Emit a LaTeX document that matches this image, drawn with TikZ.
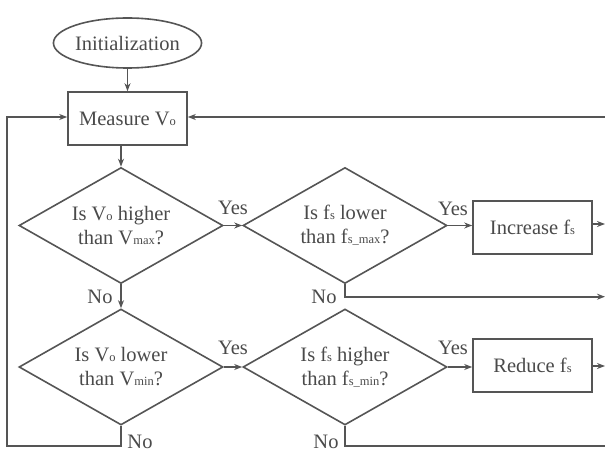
\documentclass[tikz,border=0pt]{standalone}
\usepackage{fontspec}
\setmainfont{Liberation Serif}
\usetikzlibrary{shapes.geometric, arrows.meta}
\definecolor{lncol}{HTML}{555555}
\definecolor{txcol}{HTML}{4A4A4A}
\newcommand{\lowsub}[1]{{\fontsize{12.5}{12.5}\selectfont #1}}
\tikzset{
  box/.style={draw=lncol, line width=1.6pt, minimum width=119pt, minimum height=53pt, inner sep=0pt},
  decide/.style={draw=lncol, line width=1.6pt, diamond, aspect=1.76, minimum width=204pt, minimum height=116pt, inner sep=0pt, align=center},
  flow/.style={draw=lncol, line width=1.6pt, -{Stealth[length=8pt, width=6pt]}},
  lbl/.style={text=txcol, inner sep=0pt}
}
\begin{document}
\begin{tikzpicture}[x=1pt, y=-1pt, font=\fontsize{20.5}{24}\selectfont, text=txcol]
\useasboundingbox (0,0) rectangle (605,452);
% start and measurement
\node[draw=lncol, line width=1.6pt, ellipse, minimum width=145pt, minimum height=50pt, inner sep=0pt] (init) at (127.5,43) {Initialization};
\node[box] (measure) at (127.5,118.5) {Measure V\lowsub{o}};
\draw[flow] (init) -- (measure);
% checks on the output voltage
\node[decide] (chkmax) at (121,225.5) {Is V\lowsub{o} higher\\than V\lowsub{max}?};
\node[decide] (chkmin) at (121,367) {Is V\lowsub{o} lower\\than V\lowsub{min}?};
\draw[flow] (chkmax.north |- measure.south) -- (chkmax.north);
\draw[flow] (chkmax) -- (chkmin);
\node[lbl] at (100,296.7) {No};
% checks on the switching frequency
\node[decide] (fsmax) at (345,225.5) {Is f\lowsub{s} lower\\than f\lowsub{s\_max}?};
\node[decide] (fsmin) at (345,367) {Is f\lowsub{s} higher\\than f\lowsub{s\_min}?};
\draw[flow] (chkmax) -- (fsmax);
\draw[flow] (chkmin) -- (fsmin);
\node[lbl] at (233,208) {Yes};
\node[lbl] at (233,348) {Yes};
% actions
\node[box] (incr) at (532.5,227.5) {Increase f\lowsub{s}};
\node[box] (redu) at (532.5,365.5) {Reduce f\lowsub{s}};
\draw[flow] (fsmax.east) -- (incr.west |- fsmax.east);
\draw[flow] (fsmin.east) -- (redu.west |- fsmin.east);
\node[lbl] at (453,209) {Yes};
\node[lbl] at (453,348) {Yes};
% returns off to the right edge
\coordinate (outinc) at (605,224);
\coordinate (outred) at (605,366);
\coordinate (outno1) at (605,296.7);
\coordinate (outno2) at (605,446);
\coordinate (backin) at (605,117);
\draw[flow] (incr.east |- outinc) -- (outinc);
\draw[flow] (redu.east |- outred) -- (outred);
\draw[flow] (fsmax.south) |- (outno1);
\draw[draw=lncol, line width=1.6pt] (fsmin.south) |- (outno2);
\draw[flow] (backin) -- (measure.east |- backin);
\node[lbl] at (324,296.7) {No};
\node[lbl] at (326,442) {No};
% loop back on the left
\coordinate (loopdn) at (7,446);
\draw[flow] (chkmin.south) |- (loopdn) |- (measure.west |- backin);
\node[lbl] at (140,442) {No};
\end{tikzpicture}
\end{document}
